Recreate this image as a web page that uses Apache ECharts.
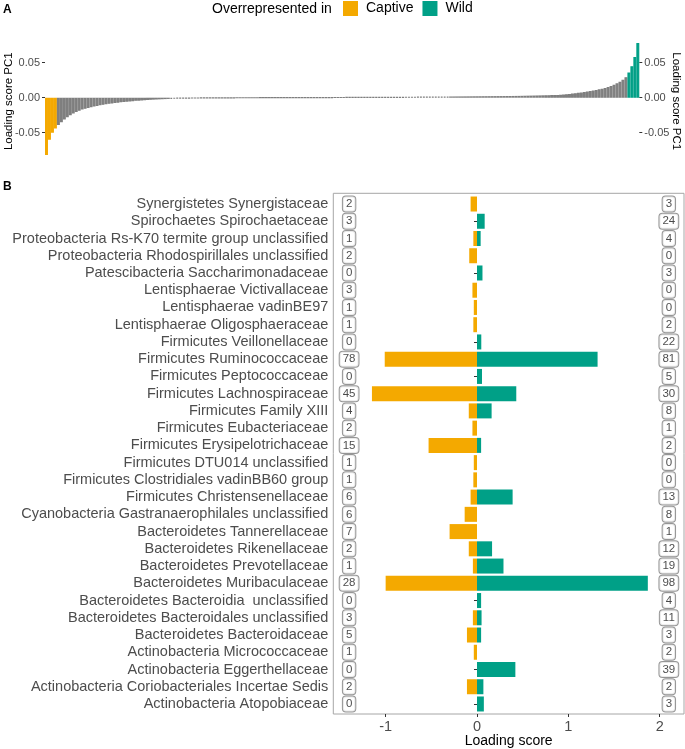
<!DOCTYPE html>
<html><head><meta charset="utf-8">
<script src="https://cdn.jsdelivr.net/npm/echarts@6/dist/echarts.min.js"></script>
<style>html,body{margin:0;padding:0;background:#fff}#c{width:685px;height:749px}</style>
</head><body><div id="c"></div>
<script>
// ---------- Panel A: sorted PC1 loading scores ----------
const captiveLoadingsPC1 = [-0.082, -0.060, -0.050, -0.044];
const neutralLoadingsPC1 = [
  -0.039,-0.035,-0.031,-0.028,-0.025,-0.0225,-0.0205,-0.0185,-0.017,-0.0158,
  -0.0146,-0.0136,-0.0126,-0.0117,-0.0108,-0.0101,-0.0094,-0.0088,-0.0082,-0.0076,
  -0.0071,-0.0066,-0.0061,-0.0057,-0.0053,-0.0049,-0.0045,-0.0042,-0.0039,-0.0036,
  -0.0033,-0.0030,-0.0028,-0.0026,-0.0024,-0.0022,-0.0020,-0.0018,-0.0017,-0.0015,
  -0.0014,-0.0013,-0.0012,-0.0011,-0.0010,-0.0009,-0.0008,
  -0.0008,-0.0007,-0.0007,-0.0006,-0.0006,-0.0005,-0.0005,-0.0004,-0.0004,-0.0004,
  -0.0003,-0.0003,-0.0003,-0.0002,-0.0002,-0.0002,-0.0002,-0.0001,-0.0001,-0.0001,
  -0.0001,-0.00005,-0.00003,
  0.00002,0.00004,0.00006,0.00008,0.0001,0.0001,
  0.00012,0.00014,0.00016,0.00018,0.0002,0.0002,0.00022,0.00025,0.00028,0.0003,
  0.00033,0.00036,0.0004,0.00042,0.00045,0.00048,0.0005,0.00053,0.00056,0.0006,
  0.00062,0.00065,0.00068,0.0007,0.00073,0.00076,0.0008,0.00082,0.00085,0.00088,
  0.0009,0.00093,0.00096,0.001,0.00102,0.00105,0.00108,0.0011,0.00113,0.00116,
  0.0012,0.00123,0.00126,0.0013,0.00133,0.00136,0.0014,0.00143,0.00146,0.0015,
  0.00153,0.00156,0.0016,0.00163,0.00166,0.0017,0.00173,0.00176,0.0018,0.00183,
  0.00186,0.0019,0.00193,0.00196,0.002,0.00203,0.00206,0.0021,0.00213,0.00216,
  0.0022,0.00224,0.00228,0.00232,0.00236,0.0024,0.00245,0.0025,0.00255,0.0026,
  0.0027,0.0028,0.0029,0.003,0.0031,0.0032,0.0033,0.0034,0.0035,0.0036,
  0.0037,0.0038,0.004,0.0043,0.0046,0.005,0.0054,0.0059,0.0064,0.0069,
  0.0074,0.008,0.0087,0.0094,0.0102,0.011,0.0119,0.0129,0.014,0.0153,
  0.0168,0.0185,0.0205,0.0228,0.0258,0.0292
];
const wildLoadingsPC1 = [0.036, 0.045, 0.058, 0.078];
const pcTickValues = [-0.05, 0, 0.05];

// ---------- Panel B: per-family loading scores ----------
const families = [
  'Synergistetes Synergistaceae',
  'Spirochaetes Spirochaetaceae',
  'Proteobacteria Rs-K70 termite group unclassified',
  'Proteobacteria Rhodospirillales unclassified',
  'Patescibacteria Saccharimonadaceae',
  'Lentisphaerae Victivallaceae',
  'Lentisphaerae vadinBE97',
  'Lentisphaerae Oligosphaeraceae',
  'Firmicutes Veillonellaceae',
  'Firmicutes Ruminococcaceae',
  'Firmicutes Peptococcaceae',
  'Firmicutes Lachnospiraceae',
  'Firmicutes Family XIII',
  'Firmicutes Eubacteriaceae',
  'Firmicutes Erysipelotrichaceae',
  'Firmicutes DTU014 unclassified',
  'Firmicutes Clostridiales vadinBB60 group',
  'Firmicutes Christensenellaceae',
  'Cyanobacteria Gastranaerophilales unclassified',
  'Bacteroidetes Tannerellaceae',
  'Bacteroidetes Rikenellaceae',
  'Bacteroidetes Prevotellaceae',
  'Bacteroidetes Muribaculaceae',
  'Bacteroidetes Bacteroidia  unclassified',
  'Bacteroidetes Bacteroidales unclassified',
  'Bacteroidetes Bacteroidaceae',
  'Actinobacteria Micrococcaceae',
  'Actinobacteria Eggerthellaceae',
  'Actinobacteria Coriobacteriales Incertae Sedis',
  'Actinobacteria Atopobiaceae'
];
const captiveScores = [-0.07,0,-0.04,-0.085,0,-0.05,-0.035,-0.04,0,-1.01,0,-1.15,-0.09,-0.05,-0.53,-0.035,-0.04,-0.07,-0.135,-0.30,-0.09,-0.045,-1.00,0,-0.045,-0.11,-0.035,0,-0.11,0];
const wildScores = [0,0.084,0.04,0,0.06,0,0,0,0.047,1.32,0.055,0.43,0.16,0,0.045,0,0,0.39,0,0,0.165,0.29,1.87,0.045,0.05,0.045,0,0.42,0.07,0.075];
const captiveCounts = [2,3,1,2,0,3,1,1,0,78,0,45,4,2,15,1,1,6,6,7,2,1,28,0,3,5,1,0,2,0];
const wildCounts = [3,24,4,0,3,0,0,2,22,81,5,30,8,1,2,0,0,13,8,1,12,19,98,4,11,3,2,39,2,3];
const scoreTickValues = [-1, 0, 1, 2];

// ---------- style / layout ----------
const CAPTIVE = '#F4A900', WILD = '#00A087', NEUTRAL = '#7F7F7F';
const FONT = "'Liberation Sans', Arial, sans-serif";
const COUNT_X_LEFT = -1.40, COUNT_X_RIGHT = 2.10;
const SCORE_MIN = -1.573, SCORE_MAX = 2.266;

const colored = (c) => ({color: c, borderColor: c, borderWidth: 1.2});
const pcData = []
  .concat(captiveLoadingsPC1.map(v => ({value: v, itemStyle: colored(CAPTIVE)})))
  .concat(neutralLoadingsPC1.map(v => ({value: v, itemStyle: colored(NEUTRAL)})))
  .concat(wildLoadingsPC1.map(v => ({value: v, itemStyle: colored(WILD)})));
const pcIndex = pcData.map((d, i) => String(i + 1));

const pcYAxis = (pos) => ({
  type: 'value', gridIndex: 0, position: pos, min: -0.1, max: 0.09,
  axisLine: {show: false}, splitLine: {show: false},
  axisTick: {show: true, length: 3, customValues: pcTickValues, lineStyle: {color: '#333'}},
  axisLabel: {customValues: pcTickValues, formatter: v => v.toFixed(2), fontSize: 11, color: '#4d4d4d', margin: 5, fontFamily: FONT},
  name: 'Loading score PC1', nameLocation: 'middle', nameMoveOverlap: false,
  nameGap: pos === 'left' ? 30 : 31,
  nameRotate: pos === 'left' ? 90 : -90,
  nameTextStyle: {fontSize: 11.5, color: '#000', fontFamily: FONT}
});

const countLabel = (counts) => ({
  show: true, position: 'inside',
  formatter: p => String(counts[p.dataIndex]),
  fontSize: 11.5, color: '#1a1a1a', fontFamily: FONT,
  borderColor: '#7a7a7a', borderWidth: 1, borderRadius: 3,
  padding: [2, 3, 1, 3], backgroundColor: '#fff'
});

const chart = echarts.init(document.getElementById('c'), null, {renderer: 'canvas'});
chart.setOption({
  animation: false,
  textStyle: {fontFamily: FONT},
  graphic: [
    {type: 'text', left: 3, top: 4, style: {text: 'A', fontSize: 12, fontWeight: 'bold', fill: '#000', fontFamily: FONT}},
    {type: 'text', left: 3, top: 181, style: {text: 'B', fontSize: 12, fontWeight: 'bold', fill: '#000', fontFamily: FONT}},
    {type: 'text', left: 212, top: 2, style: {text: 'Overrepresented in', fontSize: 14, fill: '#000', fontFamily: FONT}}
  ],
  legend: {
    data: [{name: 'Captive', icon: 'rect'}, {name: 'Wild', icon: 'rect'}],
    left: 343, top: 1, itemWidth: 15, itemHeight: 15, itemGap: 9, padding: 0,
    formatter: n => '{t|' + n + '}',
    textStyle: {fontSize: 14, color: '#000', fontFamily: FONT,
      rich: {t: {fontSize: 14, color: '#000', fontFamily: FONT, padding: [0, 0, 0, 3]}}}
  },
  grid: [
    {left: 45, right: 45.7, top: 34.7, height: 133, outerBoundsMode: 'none'},
    {left: 333.3, right: 1, top: 195.4, height: 517.2, outerBoundsMode: 'none'},
    {left: 333.3, right: 1, top: 193.3, bottom: 35, show: true, borderColor: '#a6a6a6', borderWidth: 1, backgroundColor: 'transparent', outerBoundsMode: 'none'}
  ],
  xAxis: [
    {type: 'category', gridIndex: 0, data: pcIndex, show: false},
    {type: 'value', gridIndex: 1, min: SCORE_MIN, max: SCORE_MAX, show: false, splitLine: {show: false}},
    {type: 'value', gridIndex: 2, min: SCORE_MIN, max: SCORE_MAX, position: 'bottom',
      axisLine: {show: false}, splitLine: {show: false},
      axisTick: {show: true, length: 3, customValues: scoreTickValues, lineStyle: {color: '#333'}},
      axisLabel: {customValues: scoreTickValues, fontSize: 14.5, color: '#4d4d4d', margin: 5, fontFamily: FONT},
      name: 'Loading score', nameLocation: 'middle', nameMoveOverlap: false, nameGap: 20,
      nameTextStyle: {fontSize: 14, color: '#000', fontFamily: FONT}}
  ],
  yAxis: [
    pcYAxis('left'),
    pcYAxis('right'),
    {type: 'category', gridIndex: 1, data: families, inverse: true,
      axisLine: {show: false}, splitLine: {show: false},
      axisTick: {show: true, length: 3, alignWithLabel: true, lineStyle: {color: '#333'}},
      axisLabel: {fontSize: 14.5, color: '#4d4d4d', margin: 5, fontFamily: FONT, interval: 0}},
    {type: 'value', gridIndex: 2, show: false, splitLine: {show: false}}
  ],
  series: [
    {type: 'bar', xAxisIndex: 0, yAxisIndex: 0, data: pcData, barCategoryGap: '0%', silent: true},
    {name: 'Captive', type: 'bar', xAxisIndex: 1, yAxisIndex: 2, data: captiveScores,
      itemStyle: {color: CAPTIVE}, barGap: '-100%', barCategoryGap: '13%'},
    {name: 'Wild', type: 'bar', xAxisIndex: 1, yAxisIndex: 2, data: wildScores,
      itemStyle: {color: WILD}, barGap: '-100%', barCategoryGap: '13%'},
    {type: 'scatter', xAxisIndex: 1, yAxisIndex: 2, symbolSize: 0, silent: true,
      data: families.map(f => [COUNT_X_LEFT, f]), label: countLabel(captiveCounts)},
    {type: 'scatter', xAxisIndex: 1, yAxisIndex: 2, symbolSize: 0, silent: true,
      data: families.map(f => [COUNT_X_RIGHT, f]), label: countLabel(wildCounts)}
  ]
});
</script>
</body></html>
